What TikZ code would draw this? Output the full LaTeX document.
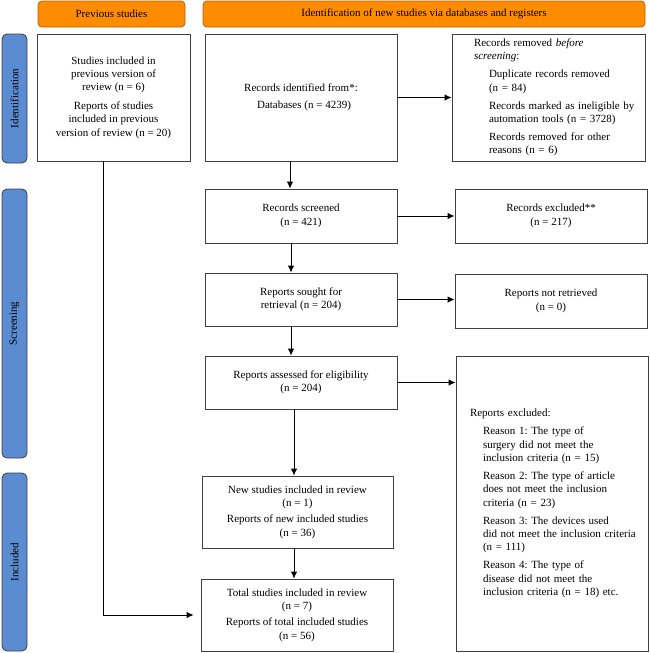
\documentclass[tikz,border=0pt]{standalone}
\usepackage{fontspec}
\setmainfont{Liberation Serif}
\usetikzlibrary{arrows.meta}
\definecolor{orng}{HTML}{FF8C00}
\definecolor{orngd}{HTML}{B0650A}
\definecolor{blu}{HTML}{5B8BD0}
\definecolor{bord}{HTML}{404040}
\frenchspacing
\newcommand{\indA}[1]{\mbox{\hspace*{15pt}#1}}
\newcommand{\indB}[1]{\mbox{\hspace*{13pt}#1}}
\begin{document}
\begin{tikzpicture}[x=1pt,y=-1pt,
  box/.style={draw=bord,line width=0.8pt,fill=white,inner sep=0pt,align=center,
    font=\fontsize{11}{13.4}\selectfont},
  lbox/.style={draw=bord,line width=0.8pt,fill=white,inner ysep=0pt,align=left,
    font=\fontsize{11}{13.4}\selectfont},
  head/.style={draw=orngd,fill=orng,rounded corners=4pt,line width=0.8pt,inner sep=0pt,
    font=\fontsize{11}{13}\selectfont},
  phase/.style={draw=bord,fill=blu,rounded corners=5pt,line width=0.8pt,inner sep=0pt,
    rotate=90,font=\fontsize{11}{13}\selectfont},
  arr/.style={-{Latex[length=7pt,width=6.5pt]},line width=1pt,black}]
\useasboundingbox (0,0) rectangle (650,653);

% headers
\node[head,minimum width=147,minimum height=26] (hprev) at (111.5,14) {Previous studies};
\node[head,minimum width=442,minimum height=26] (hnew) at (424,14) {Identification of new studies via databases and registers};

% phase bars
\node[phase,minimum width=129,minimum height=25] (pid) at (14.5,98.5) {Identification};
\node[phase,minimum width=269,minimum height=25] (pscr) at (14.5,323.5) {Screening};
\node[phase,minimum width=178,minimum height=25] (pinc) at (14.5,562) {Included};

% boxes
\node[box,minimum width=153,minimum height=127] (prev) at (113.5,97.5)
  {Studies included in\\ previous version of\\ review (n = 6)\\[5pt]
   Reports of studies\\ included in previous\\ version of review (n = 20)};
\node[box,minimum width=192,minimum height=127] (ident) at (301,97.5)
  {Records identified from*:\\[3.5pt] \hspace*{6pt}Databases (n = 4239)};
\node[lbox,inner xsep=22pt,text width=149pt,minimum height=127] (removed) at (548.5,97.5)
  {\mbox{Records removed \emph{before}}\\ \mbox{\emph{screening}:}\\[4.5pt]
   \indA{Duplicate records removed}\\ \indA{(n = 84)}\\[4.5pt]
   \indA{Records marked as ineligible by}\\ \indA{automation tools (n = 3728)}\\[4.5pt]
   \indA{Records removed for other}\\ \indA{reasons (n = 6)}};
\node[box,minimum width=192,minimum height=54] (screened) at (301,216)
  {Records screened\\ (n = 421)};
\node[box,minimum width=192,minimum height=54] (excluded) at (551,216)
  {Records excluded**\\ (n = 217)};
\node[box,minimum width=192,minimum height=53] (sought) at (301,299.5)
  {Reports sought for\\ retrieval (n = 204)};
\node[box,minimum width=192,minimum height=54] (notret) at (551,301)
  {Reports not retrieved\\ (n = 0)};
\node[box,minimum width=192,minimum height=53] (assessed) at (301,382.5)
  {Reports assessed for eligibility\\ (n = 204)};
\node[lbox,inner xsep=14pt,text width=164pt,minimum height=295] (rexcl) at (552,503.5)
  {\mbox{Reports excluded:}\\[4.5pt]
   \indB{Reason 1: The type of}\\ \indB{surgery did not meet the}\\ \indB{inclusion criteria (n = 15)}\\[4.5pt]
   \indB{Reason 2: The type of article}\\ \indB{does not meet the inclusion}\\ \indB{criteria (n = 23)}\\[4.5pt]
   \indB{Reason 3: The devices used}\\ \indB{did not meet the inclusion criteria}\\ \indB{(n = 111)}\\[4.5pt]
   \indB{Reason 4: The type of}\\ \indB{disease did not meet the}\\ \indB{inclusion criteria (n = 18) etc.}};
\node[box,minimum width=191,minimum height=72] (newst) at (297.5,512)
  {New studies included in review\\ (n = 1)\\[3pt] Reports of new included studies\\ (n = 36)};
\node[box,minimum width=192,minimum height=72] (total) at (297,615)
  {Total studies included in review\\ (n = 7)\\[3pt] Reports of total included studies\\ (n = 56)};

% connectors
\draw[arr] (ident.east) -- (removed.west);
\draw[arr] ([xshift=-11pt]ident.south) -- ([xshift=-11pt]screened.north);
\draw[arr] (screened.east) -- (excluded.west |- screened.east);
\draw[arr] ([xshift=-10pt]screened.south) -- ([xshift=-10pt]sought.north);
\draw[arr] (sought.east) -- (notret.west |- sought.east);
\draw[arr] ([xshift=-10pt]sought.south) -- ([xshift=-10pt]assessed.north);
\draw[arr] (assessed.east) -- (rexcl.west |- assessed.east);
\draw[arr] ([xshift=-7pt]assessed.south) -- ([xshift=-3.5pt]newst.north);
\draw[arr] ([xshift=-3.5pt]newst.south) -- ([xshift=-3pt]total.north);
\draw[arr,shorten >=7pt] ([xshift=-10.5pt]prev.south) |- (total.west);
\end{tikzpicture}
\end{document}
